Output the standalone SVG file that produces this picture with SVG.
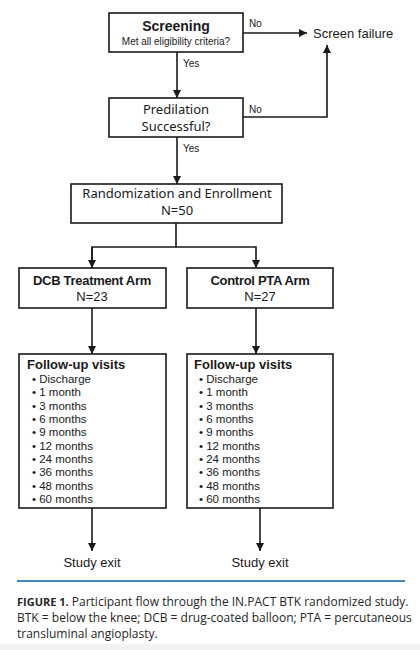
<svg xmlns="http://www.w3.org/2000/svg" width="420" height="650" viewBox="0 0 420 650">
<style>
.box{fill:#fff;stroke:#1a1a1a;stroke-width:1.6}
.ln{fill:none;stroke:#1a1a1a;stroke-width:1.6}
.a{font-family:"Liberation Sans",Arial,sans-serif;fill:#1a1a1a}
.b{font-family:"Liberation Sans",Arial,sans-serif;font-weight:bold;fill:#1a1a1a}
.h{font-family:"Noto Sans","Open Sans",sans-serif;fill:#1a1a1a}
.cap{font-family:"Open Sans","Noto Sans",sans-serif;fill:#262626;font-size:12px}
</style>
<defs>
<marker id="arr" viewBox="0 0 10 10" refX="10" refY="5" markerWidth="8" markerHeight="8" markerUnits="userSpaceOnUse" orient="auto">
<path d="M0,0 L10,5 L0,10 z" fill="#1a1a1a"/>
</marker>
</defs>
<rect x="0" y="0" width="420" height="650" fill="#fff"/>
<rect x="0" y="644" width="420" height="6" fill="#f2f2f2"/>

<g id="connectors">
<line class="ln" x1="243" y1="33" x2="307" y2="33" marker-end="url(#arr)"/>
<polyline class="ln" points="243,117 327,117 327,45" marker-end="url(#arr)"/>
<line class="ln" x1="177" y1="52" x2="177" y2="98" marker-end="url(#arr)"/>
<line class="ln" x1="177" y1="137" x2="177" y2="184" marker-end="url(#arr)"/>
<line class="ln" x1="176" y1="223" x2="176" y2="247"/>
<polyline class="ln" points="92,268 92,247 256,247 256,268" marker-end="url(#arr)"/>
<line class="ln" x1="92" y1="247" x2="92" y2="268" marker-end="url(#arr)"/>
<line class="ln" x1="92" y1="308" x2="92" y2="354" marker-end="url(#arr)"/>
<line class="ln" x1="256" y1="308" x2="256" y2="354" marker-end="url(#arr)"/>
<line class="ln" x1="92" y1="508" x2="92" y2="551" marker-end="url(#arr)"/>
<line class="ln" x1="260" y1="508" x2="260" y2="551" marker-end="url(#arr)"/>
<text class="a" x="249" y="27" font-size="10">No</text>
<text class="a" x="249" y="113" font-size="10">No</text>
<text class="a" x="183" y="67" font-size="10">Yes</text>
<text class="a" x="183" y="152" font-size="10">Yes</text>
</g>

<g id="screening">
<rect class="box" x="109" y="13" width="134" height="39"/>
<text class="b" x="176" y="31" font-size="14" text-anchor="middle">Screening</text>
<text class="a" x="176" y="45" font-size="10" text-anchor="middle">Met all eligibility criteria?</text>
</g>

<g id="screen-failure">
<text class="a" x="313" y="38" font-size="13">Screen failure</text>
</g>

<g id="predilation">
<rect class="box" x="109" y="98" width="134" height="39"/>
<text class="h" x="176" y="114" font-size="13" text-anchor="middle">Predilation</text>
<text class="h" x="176" y="131" font-size="13" text-anchor="middle">Successful?</text>
</g>

<g id="randomization">
<rect class="box" x="71" y="184" width="211" height="39"/>
<text class="h" x="177" y="198" font-size="13" text-anchor="middle">Randomization and Enrollment</text>
<text class="h" x="177" y="215" font-size="13" text-anchor="middle">N=50</text>
</g>

<g id="dcb-arm">
<rect class="box" x="19" y="268" width="147" height="40"/>
<text class="b" x="92" y="285" font-size="13" text-anchor="middle" letter-spacing="-0.3">DCB Treatment Arm</text>
<text class="a" x="92" y="301" font-size="13" text-anchor="middle">N=23</text>
</g>

<g id="control-arm">
<rect class="box" x="187" y="268" width="146" height="40"/>
<text class="b" x="260" y="285" font-size="13" text-anchor="middle" letter-spacing="-0.3">Control PTA Arm</text>
<text class="a" x="260" y="301" font-size="13" text-anchor="middle">N=27</text>
</g>

<g id="dcb-followup">
<rect class="box" x="19" y="354" width="147" height="154"/>
<text class="b" x="27" y="369" font-size="13">Follow-up visits</text>
<text class="a" font-size="11.5">
<tspan x="32" y="383">• Discharge</tspan>
<tspan x="32" y="396.3">• 1 month</tspan>
<tspan x="32" y="409.7">• 3 months</tspan>
<tspan x="32" y="423">• 6 months</tspan>
<tspan x="32" y="436.3">• 9 months</tspan>
<tspan x="32" y="449.7">• 12 months</tspan>
<tspan x="32" y="463">• 24 months</tspan>
<tspan x="32" y="476.3">• 36 months</tspan>
<tspan x="32" y="489.7">• 48 months</tspan>
<tspan x="32" y="503">• 60 months</tspan>
</text>
</g>

<g id="control-followup">
<rect class="box" x="187" y="354" width="146" height="154"/>
<text class="b" x="194" y="369" font-size="13">Follow-up visits</text>
<text class="a" font-size="11.5">
<tspan x="199" y="383">• Discharge</tspan>
<tspan x="199" y="396.3">• 1 month</tspan>
<tspan x="199" y="409.7">• 3 months</tspan>
<tspan x="199" y="423">• 6 months</tspan>
<tspan x="199" y="436.3">• 9 months</tspan>
<tspan x="199" y="449.7">• 12 months</tspan>
<tspan x="199" y="463">• 24 months</tspan>
<tspan x="199" y="476.3">• 36 months</tspan>
<tspan x="199" y="489.7">• 48 months</tspan>
<tspan x="199" y="503">• 60 months</tspan>
</text>
</g>

<g id="dcb-exit">
<text class="a" x="92" y="567" font-size="13" text-anchor="middle">Study exit</text>
</g>
<g id="control-exit">
<text class="a" x="260" y="567" font-size="13" text-anchor="middle">Study exit</text>
</g>

<g id="caption">
<line x1="17" y1="581" x2="405" y2="581" stroke="#3f86bf" stroke-width="2"/>
<text class="cap" x="17" y="606"><tspan font-weight="bold" font-size="11">FIGURE 1.</tspan> Participant flow through the IN.PACT BTK randomized study.</text>
<text class="cap" x="17" y="622">BTK = below the knee; DCB = drug-coated balloon; PTA = percutaneous</text>
<text class="cap" x="17" y="638">transluminal angioplasty.</text>
</g>
</svg>
